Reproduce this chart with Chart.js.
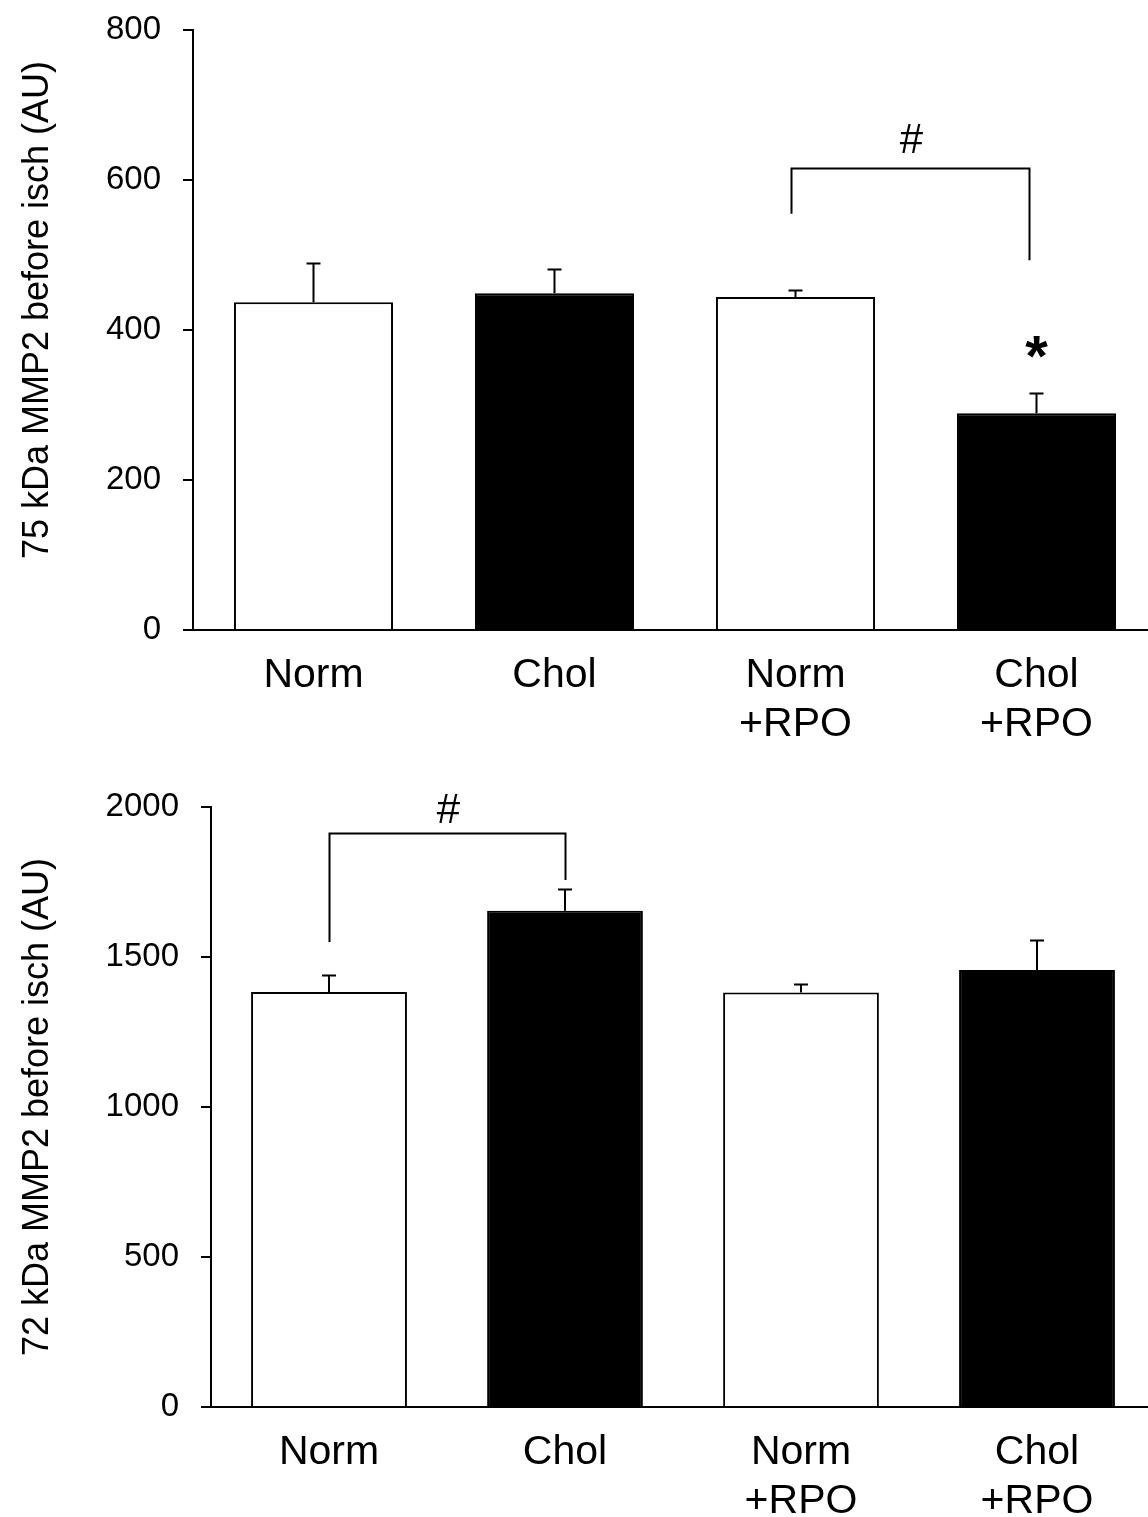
<!DOCTYPE html>
<html>
<head>
<meta charset="utf-8">
<script src="https://cdn.jsdelivr.net/npm/chart.js@4.4.1/dist/chart.umd.min.js"></script>
<style>
  html, body { margin: 0; padding: 0; background: #fff; overflow: hidden; width: 1148px; height: 1517px; }
  canvas { position: absolute; left: 0; }
  #topChart { top: 0; }
  #bottomChart { top: 765px; }
</style>
</head>
<body>
<canvas id="topChart" width="1157" height="765"></canvas>
<canvas id="bottomChart" width="1155" height="752"></canvas>
<script>
/* ===== Data ===== */
const categories = ['Norm', 'Chol', ['Norm', '+RPO'], ['Chol', '+RPO']];
const barColors = ['#ffffff', '#000000', '#ffffff', '#000000'];

const mmp75 = [437, 449, 444, 289];
const mmp75Err = [53, 33, 10, 27];
const ticks75 = [0, 200, 400, 600, 800];

const mmp72 = [1383, 1654, 1382, 1457];
const mmp72Err = [57, 72, 29, 99];
const ticks72 = [0, 500, 1000, 1500, 2000];

const FONT = "'Liberation Sans', Arial, sans-serif";

/* ===== Error bars + significance marks ===== */
const marksPlugin = {
    id: 'marks',
    afterDatasetsDraw(chart, args, opts) {
        const ctx = chart.ctx;
        const x = chart.scales.x, y = chart.scales.y;
        const meta = chart.getDatasetMeta(0);
        const values = chart.data.datasets[0].data;
        ctx.save();
        ctx.strokeStyle = '#000';
        ctx.fillStyle = '#000';
        ctx.lineWidth = 2;

        // error bars (upper only)
        opts.errors.forEach((e, i) => {
            const bar = meta.data[i];
            const yTop = Math.round(y.getPixelForValue(values[i] + e)) + 0.5;
            ctx.beginPath();
            ctx.moveTo(bar.x, bar.y);
            ctx.lineTo(bar.x, yTop);
            ctx.moveTo(bar.x - 7, yTop);
            ctx.lineTo(bar.x + 7, yTop);
            ctx.stroke();
        });

        // bracket
        const b = opts.bracket;
        if (b) {
            const x1 = Math.round(x.getPixelForValue(b.from) + (b.dx1 || 0)) + 0.5;
            const x2 = Math.round(x.getPixelForValue(b.to) + (b.dx2 || 0)) + 0.5;
            const yT = Math.round(y.getPixelForValue(b.top)) + 0.5;
            ctx.beginPath();
            ctx.moveTo(x1, y.getPixelForValue(b.leftEnd));
            ctx.lineTo(x1, yT);
            ctx.lineTo(x2, yT);
            ctx.lineTo(x2, y.getPixelForValue(b.rightEnd));
            ctx.stroke();
            ctx.font = '42px ' + FONT;
            ctx.textAlign = 'center';
            ctx.textBaseline = 'middle';
            ctx.fillText(b.label, (x1 + x2) / 2 + 1, y.getPixelForValue(b.labelAt));
        }

        // star
        const s = opts.star;
        if (s) {
            ctx.font = 'bold 58px ' + FONT;
            ctx.textAlign = 'center';
            ctx.textBaseline = 'middle';
            ctx.fillText('*', x.getPixelForValue(s.index), y.getPixelForValue(s.at) + 8);
        }
        ctx.restore();
    }
};

function makeChart(canvasId, values, errors, tickValues, title, axisWidth, padTop, xHeight, marks){
    return new Chart(document.getElementById(canvasId), {
        type: 'bar',
        data: {
            labels: categories,
            datasets: [{
                data: values,
                backgroundColor: barColors,
                borderColor: '#000',
                borderWidth: 2,
                borderSkipped: 'bottom',
                barPercentage: 0.66,
                categoryPercentage: 1
            }]
        },
        options: {
            responsive: false,
            animation: false,
            devicePixelRatio: 1,
            layout: { padding: { top: padTop, left: 0, right: 0, bottom: 0 } },
            plugins: {
                legend: { display: false },
                tooltip: { enabled: false },
                marks: Object.assign({ errors: errors }, marks)
            },
            scales: {
                x: {
                    grid: { display: false, drawTicks: false },
                    border: { display: true, color: '#000', width: 2 },
                    ticks: {
                        color: '#000',
                        padding: 21,
                        maxRotation: 0,
                        autoSkip: false,
                        font: { family: FONT, size: 41 }
                    },
                    afterFit: s => { s.height = xHeight; }
                },
                y: {
                    min: tickValues[0],
                    max: tickValues[tickValues.length - 1],
                    afterBuildTicks: s => { s.ticks = tickValues.map(v => ({ value: v })); },
                    grid: { drawOnChartArea: false, tickLength: 10, color: '#000', lineWidth: 2 },
                    border: { display: true, color: '#000', width: 2 },
                    ticks: {
                        color: '#000',
                        padding: 22,
                        font: { family: FONT, size: 33 },
                        callback: v => String(v)
                    },
                    title: {
                        display: true,
                        text: title,
                        color: '#000',
                        padding: { top: 16, bottom: 0 },
                        font: { family: FONT, size: 36 }
                    },
                    afterFit: s => {
                        s.width = axisWidth;
                        s.paddingTop = 0;
                        s.paddingBottom = 0;
                    }
                }
            }
        },
        plugins: [marksPlugin]
    });
}

const topChart = makeChart('topChart', mmp75, mmp75Err, ticks75,
    '    75 kDa MMP2 before isch (AU)', 193, 30, 135,
    { bracket: { from: 2, to: 3, dx1: -5, dx2: -8, top: 616, leftEnd: 555, rightEnd: 493, label: '#', labelAt: 651 },
      star: { index: 3, at: 371 } });

const bottomChart = makeChart('bottomChart', mmp72, mmp72Err, ticks72,
    '72 kDa MMP2 before isch (AU)', 211, 42, 110,
    { bracket: { from: 0, to: 1, top: 1913, leftEnd: 1550, rightEnd: 1757, label: '#', labelAt: 1985 } });
</script>
</body>
</html>
